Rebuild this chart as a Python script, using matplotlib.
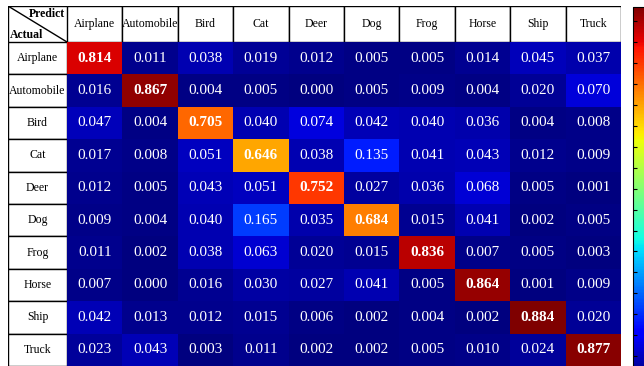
import matplotlib.pyplot as plt
from matplotlib.patches import Rectangle
import numpy as np

# Class names used for both the predicted (columns) and the actual (rows) labels
classes = ["Airplane", "Automobile", "Bird", "Cat", "Deer", "Dog", "Frog", "Horse", "Ship", "Truck"]

# Confusion matrix rows, one list per actual class
airplane_row = [0.814, 0.011, 0.038, 0.019, 0.012, 0.005, 0.005, 0.014, 0.045, 0.037]
automobile_row = [0.016, 0.867, 0.004, 0.005, 0.000, 0.005, 0.009, 0.004, 0.020, 0.070]
bird_row = [0.047, 0.004, 0.705, 0.040, 0.074, 0.042, 0.040, 0.036, 0.004, 0.008]
cat_row = [0.017, 0.008, 0.051, 0.646, 0.038, 0.135, 0.041, 0.043, 0.012, 0.009]
deer_row = [0.012, 0.005, 0.043, 0.051, 0.752, 0.027, 0.036, 0.068, 0.005, 0.001]
dog_row = [0.009, 0.004, 0.040, 0.165, 0.035, 0.684, 0.015, 0.041, 0.002, 0.005]
frog_row = [0.011, 0.002, 0.038, 0.063, 0.020, 0.015, 0.836, 0.007, 0.005, 0.003]
horse_row = [0.007, 0.000, 0.016, 0.030, 0.027, 0.041, 0.005, 0.864, 0.001, 0.009]
ship_row = [0.042, 0.013, 0.012, 0.015, 0.006, 0.002, 0.004, 0.002, 0.884, 0.020]
truck_row = [0.023, 0.043, 0.003, 0.011, 0.002, 0.002, 0.005, 0.010, 0.024, 0.877]

matrix = np.array([airplane_row, automobile_row, bird_row, cat_row, deer_row,
                   dog_row, frog_row, horse_row, ship_row, truck_row])

plt.rcParams['font.family'] = ['Liberation Serif', 'DejaVu Serif']

W, H = 644, 366
fig = plt.figure(figsize=(W / 100, H / 100), dpi=100)


# Helper to place an axes using pixel coordinates measured from the top-left corner
def px_axes(left, top, width, height):
    return fig.add_axes([left / W, (H - top - height) / H, width / W, height / H])


n = len(classes)
vmax = matrix.max()

# Main heatmap
ax = px_axes(67, 42, 554, 324)
ax.imshow(matrix, cmap='jet', vmin=0, vmax=vmax, aspect='auto', interpolation='nearest')
for i in range(n):
    for j in range(n):
        ax.text(j, i, "%.3f" % matrix[i, j], ha='center', va='center', color='white',
                fontsize=11, fontweight='bold' if i == j else 'normal')
ax.set_xticks([])
ax.set_yticks([])
for s in ax.spines.values():
    s.set_visible(False)

# Column header row (predicted classes)
hx = px_axes(67, 6, 554, 36)
hx.set_xlim(-0.5, n - 0.5)
hx.set_ylim(0, 1)
for j, name in enumerate(classes):
    hx.add_patch(Rectangle((j - 0.5, 0), 1, 1, facecolor='white', edgecolor='black', lw=1))
    hx.text(j, 0.5, name, ha='center', va='center', fontsize=8.5)
hx.axis('off')

# Row label column (actual classes)
rx = px_axes(8, 42, 59, 324)
rx.set_xlim(0, 1)
rx.set_ylim(n - 0.5, -0.5)
for i, name in enumerate(classes):
    rx.add_patch(Rectangle((0, i - 0.5), 1, 1, facecolor='white', edgecolor='black', lw=1))
    rx.text(0.5, i, name, ha='center', va='center', fontsize=8.5)
rx.axis('off')

# Corner cell with the diagonal split
cx = px_axes(8, 6, 59, 36)
cx.set_xlim(0, 1)
cx.set_ylim(0, 1)
cx.add_patch(Rectangle((0, 0), 1, 1, facecolor='white', edgecolor='black', lw=1))
cx.plot([0, 1], [1, 0], color='black', lw=1)
cx.text(0.97, 0.78, "Predict", ha='right', va='center', fontsize=8.5, fontweight='bold')
cx.text(0.03, 0.2, "Actual", ha='left', va='center', fontsize=8.5, fontweight='bold')
cx.axis('off')

# Colorbar, partly cut off by the right edge of the figure
cbx = px_axes(633, 7, 16, 370)
cb = fig.colorbar(ax.images[0], cax=cbx)
cbx.tick_params(which='both', direction='in', length=3, labelright=False, left=True, right=True)
cb.set_ticks(np.arange(0, vmax, 0.05))

plt.savefig("out.png", dpi=100)
